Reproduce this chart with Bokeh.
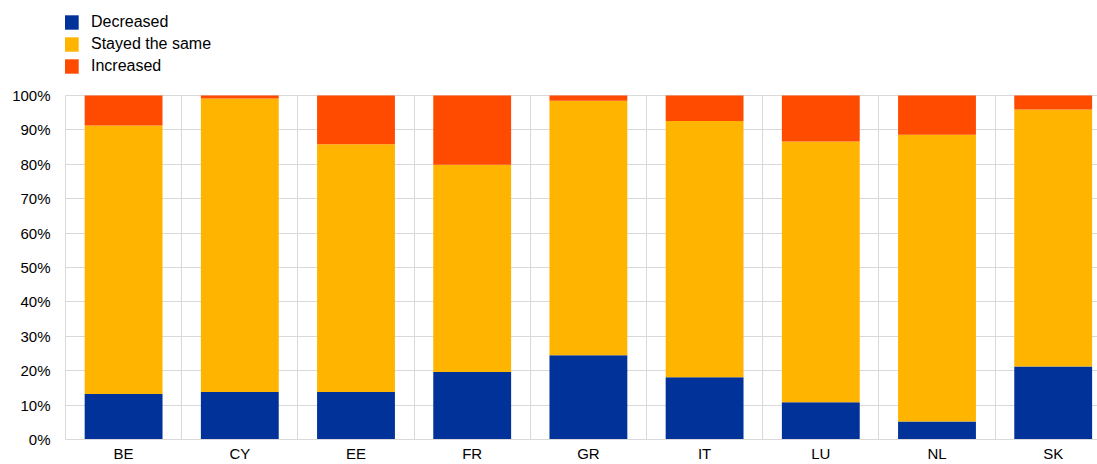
from bokeh.plotting import figure
from bokeh.models import ColumnDataSource, FixedTicker, PrintfTickFormatter, Range1d
from bokeh.models import Grid
from bokeh.embed import file_html
from bokeh.resources import INLINE

categories = ["BE", "CY", "EE", "FR", "GR", "IT", "LU", "NL", "SK"]
decreased = [13.2, 13.8, 13.8, 19.6, 24.5, 18.1, 10.8, 5.2, 21.2]
stayed = [78.1, 85.3, 72.0, 60.3, 74.0, 74.5, 75.8, 83.4, 74.7]
increased = [8.7, 0.9, 14.2, 20.1, 1.5, 7.4, 13.4, 11.4, 4.1]
series_names = ["Decreased", "Stayed the same", "Increased"]
colors = ["#003299", "#FFB400", "#FF4B00"]
y_ticks = [0, 10, 20, 30, 40, 50, 60, 70, 80, 90, 100]

xs = [i + 0.5 for i in range(len(categories))]
source = ColumnDataSource(dict(x=xs, dec=decreased, same=stayed, inc=increased))

W, H = 1097, 464
BOTTOM, LEFT = 25, 65
frame_h = H - BOTTOM
frame_w = W - LEFT
px_per_unit = 3.44
y_end = frame_h / px_per_unit
x_end = frame_w / 116.2

p = figure(width=W, height=H, output_backend="svg", toolbar_location=None,
           x_range=Range1d(0, x_end), y_range=Range1d(0, y_end),
           min_border_top=0, min_border_bottom=BOTTOM,
           min_border_left=LEFT, min_border_right=0)
p.outline_line_color = None

grid_color = "#d9d9d9"
font = "Liberation Sans"

p.xgrid.ticker = FixedTicker(ticks=list(range(len(categories) + 1)))
p.xgrid.grid_line_color = grid_color
if "cross_bounds" in Grid.properties():
    p.xgrid.cross_bounds = (0, 100)
else:
    p.xgrid.grid_line_color = None
    bx = list(range(len(categories) + 1))
    p.segment(x0=bx, y0=[0] * len(bx), x1=bx, y1=[100] * len(bx),
              line_color=grid_color, line_width=1)
p.ygrid.grid_line_color = grid_color

p.vbar_stack(["dec", "same", "inc"], x="x", width=0.67, color=colors,
             line_color=None, source=source, legend_label=series_names)

p.xaxis.ticker = FixedTicker(ticks=xs)
p.xaxis.major_label_overrides = {x: c for x, c in zip(xs, categories)}
p.yaxis.ticker = FixedTicker(ticks=y_ticks)
p.yaxis.formatter = PrintfTickFormatter(format="%d%%")
p.yaxis.bounds = (0, 100)
for ax in (p.xaxis[0], p.yaxis[0]):
    ax.major_tick_out = 0
    ax.major_tick_in = 0
    ax.minor_tick_out = 0
    ax.minor_tick_in = 0
    ax.major_tick_line_color = None
    ax.minor_tick_line_color = None
    ax.axis_line_color = grid_color
    ax.major_label_text_font = font
    ax.major_label_text_font_size = "15px"
    ax.major_label_text_color = "#000000"
p.xaxis.major_label_standoff = 5
p.yaxis.major_label_standoff = 15

lg = p.legend[0]
lg.location = (-3, frame_h - 76)
lg.orientation = "vertical"
lg.padding = 0
lg.margin = 0
lg.spacing = 2
lg.glyph_width = 18
lg.glyph_height = 18
lg.label_height = 20
lg.label_standoff = 11
lg.label_text_font = font
lg.label_text_font_size = "16px"
lg.label_text_color = "#000000"
lg.border_line_color = None
lg.background_fill_alpha = 0

open("out.html", "w").write(file_html(p, INLINE))
